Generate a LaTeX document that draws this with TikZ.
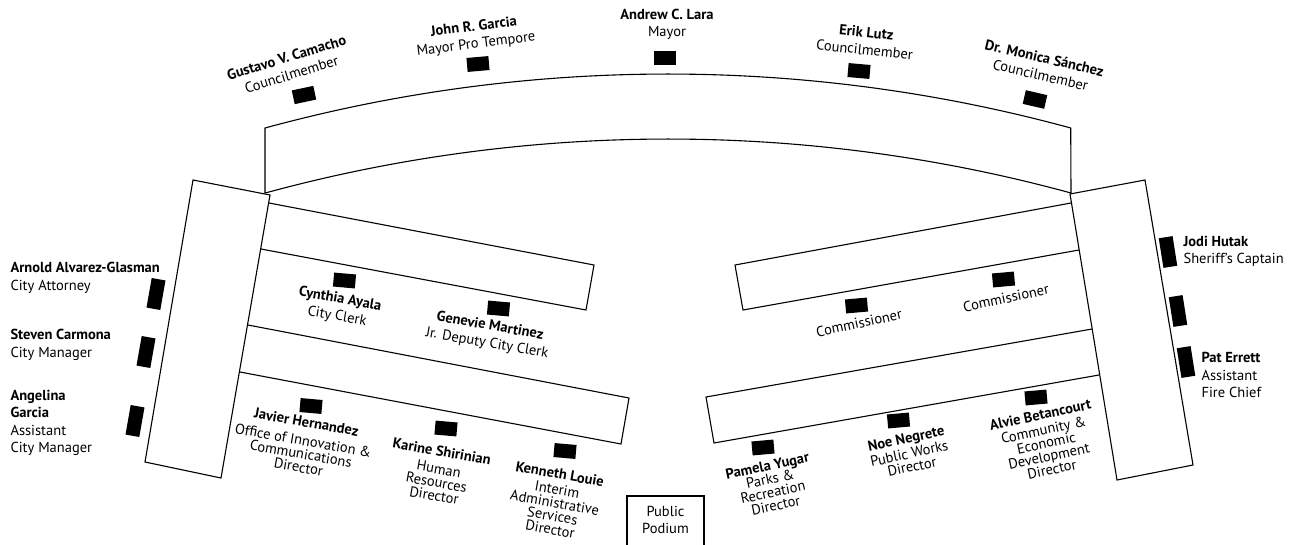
\documentclass[tikz,border=0pt]{standalone}
\usepackage{fontspec}
\setmainfont{PT Sans}
\newcommand{\nm}[1]{{\bfseries #1}}

\begin{document}
\begin{tikzpicture}[x=1pt, y=-1pt, line width=1.1pt,
  seat/.style={fill=black, inner sep=0pt, minimum width=22pt, minimum height=14pt},
  sideseat/.style={seat, minimum width=14pt, minimum height=30pt},
  who/.style={align=center, inner sep=0pt, font=\fontsize{14.5}{17.5}\selectfont},
  desk/.style={who, font=\fontsize{14.5}{13.5}\selectfont},
  wing/.style={who, align=left, anchor=west},
  ]
  \useasboundingbox (0,0) rectangle (1291,544);
  % dais, side boxes and tables
  \draw (265,193) -- (265,128) arc[start angle=105.26, end angle=74.74, radius=1530.8pt]
    -- (1071,193) arc[start angle=74.74, end angle=105.26, radius=1530.8pt] -- cycle;
  \draw (193,180) -- (270,195) -- (221,478) -- (145,462) -- cycle;
  \draw (269,203) -- (594,265) -- (586,310) -- (261,249);
  \draw (248,325) -- (629,398) -- (621,444) -- (240,372);
  \draw (1070,194) -- (1145,180) -- (1193,465) -- (1117,480) -- cycle;
  \draw (1071,203) -- (735,265) -- (743,310) -- (1079,250);
  \draw (1092,329) -- (706,397) -- (714,443) -- (1099,375);
  \draw (627,546) |- (704,496) -- (704,546);
  \node[who] (podium) at (665.5,520) {Public\\Podium};

  \node[seat, rotate=12] (camacho) at (304,95) {};
  \node[seat, rotate=5] (garcia) at (478,64) {};
  \node[seat] (lara) at (665,57.5) {};
  \node[seat, rotate=-5] (lutz) at (859,71) {};
  \node[seat, rotate=-13] (sanchez) at (1035,99.5) {};
  \node[who, rotate=17] (camachoL) at (289,66) {\nm{Gustavo V. Camacho}\\Councilmember};
  \node[who, rotate=7] (garciaL) at (475,36) {\nm{John R. Garcia}\\Mayor Pro Tempore};
  \node[who] (laraL) at (667,24.5) {\nm{Andrew C. Lara}\\Mayor};
  \node[who, rotate=-6] (lutzL) at (865.5,41) {\nm{Erik Lutz}\\Councilmember};
  \node[who, rotate=-13] (sanchezL) at (1042.5,66.5) {\nm{Dr. Monica Sánchez}\\Councilmember};

  \node[sideseat, rotate=-10] (alvarez) at (156,294) {};
  \node[sideseat, rotate=-10] (carmona) at (146,352) {};
  \node[sideseat, rotate=-10] (agarcia) at (135,421) {};
  \node[wing] (alvarezL) at (10,278) {\nm{Arnold Alvarez-Glasman}\\City Attorney};
  \node[wing] (carmonaL) at (10,345) {\nm{Steven Carmona}\\City Manager};
  \node[wing] (agarciaL) at (10,423) {\nm{Angelina}\\\nm{Garcia}\\Assistant\\City Manager};

  \node[sideseat, rotate=9] (hutak) at (1168,252) {};
  \node[sideseat, rotate=9] (spare) at (1178,311) {};
  \node[sideseat, rotate=9] (errett) at (1186,362) {};
  \node[wing] (hutakL) at (1183,251.5) {\nm{Jodi Hutak}\\Sheriff's Captain};
  \node[wing] (errettL) at (1201,375) {\nm{Pat Errett}\\Assistant\\Fire Chief};

  \node[seat, rotate=-5] (ayala) at (344.5,280.5) {};
  \node[seat, rotate=-5] (martinez) at (498.5,308.5) {};
  \node[seat, rotate=-5] (hernandez) at (311,406) {};
  \node[seat, rotate=-5] (shirinian) at (446,428.5) {};
  \node[seat, rotate=-5] (louie) at (565,451) {};
  \node[who, rotate=-10] (ayalaL) at (338.5,308) {\nm{Cynthia Ayala}\\City Clerk};
  \node[who, rotate=-10] (martinezL) at (488.5,335) {\nm{Genevie Martinez}\\Jr. Deputy City Clerk};
  \node[desk, rotate=-10] (hernandezL) at (302.5,444.5) {\nm{Javier Hernandez}\\[5pt]Office of Innovation \&\\Communications\\Director};
  \node[desk, rotate=-10] (shirinianL) at (438,473.5) {\nm{Karine Shirinian}\\[4pt]Human\\Resources\\Director};
  \node[desk, rotate=-10] (louieL) at (555,501.5) {\nm{Kenneth Louie}\\[2pt]Interim\\Administrative\\Services\\Director};

  \node[seat, rotate=5] (comma) at (856.5,305.5) {};
  \node[seat, rotate=5] (commb) at (1003.5,279.5) {};
  \node[seat, rotate=5] (yugar) at (763,447.5) {};
  \node[seat, rotate=5] (negrete) at (898.5,420.5) {};
  \node[seat, rotate=5] (betancourt) at (1036,397.5) {};
  \node[who, rotate=12] (commaL) at (859,323) {Commissioner};
  \node[who, rotate=12] (commbL) at (1006,298) {Commissioner};
  \node[desk, rotate=12] (yugarL) at (771.5,485.5) {\nm{Pamela Yugar}\\Parks \&\\Recreation\\Director};
  \node[desk, rotate=12] (negreteL) at (909,452.5) {\nm{Noe Negrete}\\[2pt]Public Works\\Director};
  \node[desk, rotate=12] (betancourtL) at (1046,442) {\nm{Alvie Betancourt}\\[2pt]Community \&\\Economic\\Development\\Director};
\end{tikzpicture}
\end{document}
